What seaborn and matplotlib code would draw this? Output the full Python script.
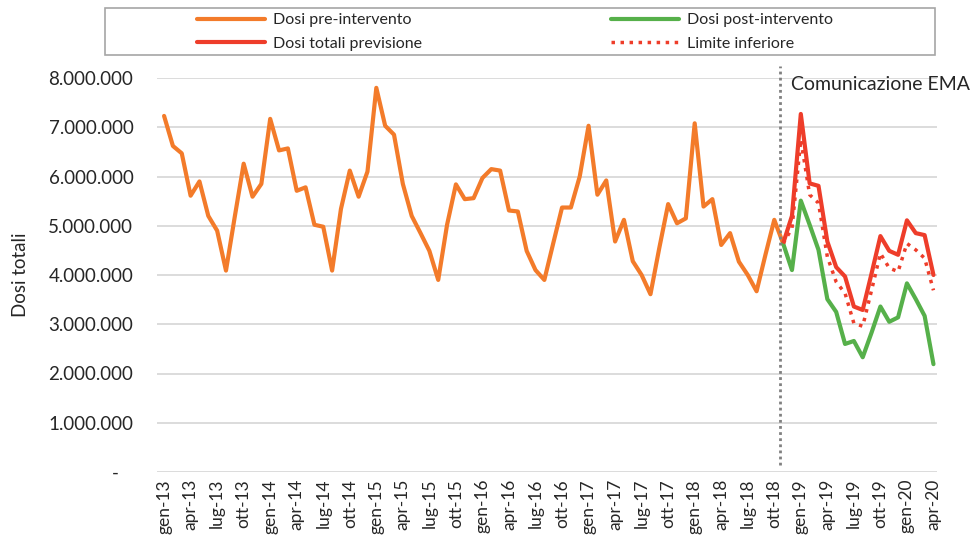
import matplotlib.pyplot as plt
import matplotlib.patches as mpatches
import matplotlib.transforms as mtransforms
import seaborn as sns
import pandas as pd

sns.set_style("white")
plt.rcParams["font.family"] = ["Lato", "DejaVu Sans"]

# monthly doses, gen-13 .. apr-20 (millions)
mesi = ["gen", "feb", "mar", "apr", "mag", "giu", "lug", "ago", "set", "ott", "nov", "dic"]
anni = ["13", "14", "15", "16", "17", "18", "19", "20"]

dosi_pre = [7.23, 6.62, 6.47, 5.61, 5.90, 5.20, 4.90, 4.09, 5.19, 6.26, 5.59, 5.85,
            7.17, 6.53, 6.57, 5.71, 5.78, 5.02, 4.98, 4.09, 5.34, 6.12, 5.59, 6.10,
            7.80, 7.03, 6.85, 5.85, 5.20, 4.85, 4.49, 3.90, 5.02, 5.84, 5.54, 5.56,
            5.97, 6.15, 6.12, 5.31, 5.29, 4.49, 4.10, 3.90, 4.64, 5.37, 5.37, 6.00,
            7.03, 5.63, 5.92, 4.68, 5.12, 4.28, 4.00, 3.61, 4.55, 5.44, 5.05, 5.15,
            7.08, 5.39, 5.54, 4.61, 4.85, 4.27, 4.00, 3.67, 4.41, 5.12, 4.64]
# nov-18 .. apr-20
dosi_post = [4.64, 4.10, 5.51, 5.02, 4.51, 3.51, 3.25, 2.60, 2.66, 2.33, 2.83, 3.36,
             3.05, 3.14, 3.83, 3.51, 3.17, 2.19]
dosi_previsione = [4.64, 5.20, 7.27, 5.86, 5.81, 4.68, 4.16, 3.97, 3.36, 3.29, 4.03, 4.79,
                   4.49, 4.41, 5.11, 4.85, 4.81, 4.00]
limite_inferiore = [4.64, 4.95, 6.75, 5.63, 5.46, 4.37, 3.86, 3.63, 3.02, 2.96, 3.69, 4.44,
                    4.14, 4.07, 4.64, 4.51, 4.34, 3.69]

etichette = [f"{m}-{a}" for a in anni for m in mesi][:88]
idx_post = list(range(70, 88))

pre = pd.DataFrame({"t": range(len(dosi_pre)), "v": [v * 1e6 for v in dosi_pre]})
post = pd.DataFrame({"t": idx_post,
                     "post": [v * 1e6 for v in dosi_post],
                     "prev": [v * 1e6 for v in dosi_previsione],
                     "lim": [v * 1e6 for v in limite_inferiore]})

fig = plt.figure(figsize=(9.72, 5.36), dpi=100)
ax = fig.add_axes([157 / 972, 1 - 472 / 536, 780 / 972, 394 / 536])

sns.lineplot(data=pre, x="t", y="v", ax=ax, color="#F37B2A", lw=3, label="Dosi pre-intervento")
sns.lineplot(data=post, x="t", y="prev", ax=ax, color="#EE3D2A", lw=3, label="Dosi totali previsione")
sns.lineplot(data=post, x="t", y="post", ax=ax, color="#56B04A", lw=3, label="Dosi post-intervento")
sns.lineplot(data=post, x="t", y="lim", ax=ax, color="#EE3D2A", lw=2.5, ls=(0, (1, 1.6)),
             label="Limite inferiore")

ax.set_xlim(-0.8, 87.4)
ax.set_ylim(0, 8e6)
ax.set_yticks([i * 1e6 for i in range(9)])
ax.set_yticklabels(["-   "] + [f"{i * 1000000:,}".replace(",", ".") for i in range(1, 9)],
                   fontsize=13.5)
ax.set_xticks(range(0, 88, 3))
ax.set_xticklabels(etichette[::3], rotation=90, fontsize=12.5)
ax.tick_params(length=0)
ax.tick_params(axis="x", pad=5)
ax.tick_params(axis="y", pad=17)
ax.grid(axis="y", color="#d9d9d9", lw=1.3)
for s in ax.spines.values():
    s.set_visible(False)
ax.set_xlabel("")
ax.set_ylabel("Dosi totali", fontsize=13.5, labelpad=14)

# intervention marker
trans = mtransforms.blended_transform_factory(ax.transData, ax.transAxes)
ax.plot([69.6, 69.6], [0.018, 1.03], transform=trans, color="#808080", lw=2,
        ls=(0, (1, 1.2)), clip_on=False)
ax.text(70.9, 7.86e6, "Comunicazione EMA", fontsize=14, va="center", ha="left")

# legend at the top with its own box
handles, labels = ax.get_legend_handles_labels()
ax.get_legend().remove()
fig.legend(handles, labels, ncol=2,
           loc="center", bbox_to_anchor=(515 / 972, 1 - 32 / 536), frameon=False,
           fontsize=11.5, handlelength=4.3, columnspacing=11.8, labelspacing=0.6,
           handletextpad=0.5)
fig.patches.append(mpatches.Rectangle((105 / 972, 1 - 55 / 536), 830 / 972, 47 / 536,
                                      transform=fig.transFigure, fill=False,
                                      edgecolor="#a6a6a6", lw=1.2))

fig.savefig("out.png", dpi=100)
